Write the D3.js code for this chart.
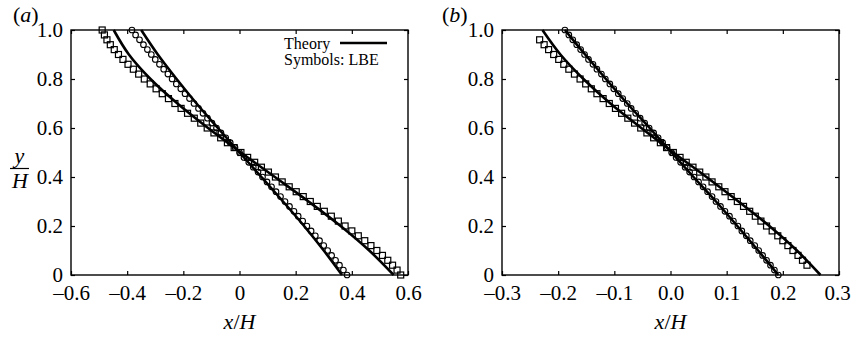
<!DOCTYPE html>
<html>
<head>
<meta charset="utf-8">
<script src="https://cdn.jsdelivr.net/npm/d3@7"></script>
<style>
  body { margin: 0; background: #fff; }
  svg text { font-family: "Liberation Serif", "DejaVu Serif", serif; }
</style>
</head>
<body>
<svg id="chart" width="851" height="337"></svg>
<script>
// y/H positions of the LBE symbols
const yPts = [1.00,0.98,0.96,0.94,0.92,0.90,0.88,0.86,0.84,0.82,0.80,0.78,0.76,0.74,0.72,0.70,0.68,0.66,0.64,0.62,0.60,0.58,0.56,0.54,0.52,0.50,0.48,0.46,0.44,0.42,0.40,0.38,0.36,0.34,0.32,0.30,0.28,0.26,0.24,0.22,0.20,0.18,0.16,0.14,0.12,0.10,0.08,0.06,0.04,0.02,0.00];
const yPtsB = [0.96,0.94,0.92,0.90,0.88,0.86,0.84,0.82,0.80,0.78,0.76,0.74,0.72,0.70,0.68,0.66,0.64,0.62,0.60,0.58,0.56,0.54,0.52,0.50,0.48,0.46,0.44,0.42,0.40,0.38,0.36,0.34,0.32,0.30,0.28,0.26,0.24,0.22,0.20,0.18,0.16,0.14,0.12,0.10,0.08,0.06,0.04];
// y/H positions of the theory curves
const yLine = [1.0,0.9,0.8,0.7,0.6,0.5,0.4,0.3,0.2,0.1,0.0];

// panel (a)
const circlesA = [-0.383,-0.370,-0.356,-0.342,-0.328,-0.314,-0.300,-0.285,-0.270,-0.255,-0.240,-0.225,-0.209,-0.194,-0.178,-0.162,-0.146,-0.130,-0.114,-0.098,-0.082,-0.066,-0.049,-0.033,-0.016,0.000,0.016,0.033,0.049,0.066,0.082,0.098,0.114,0.130,0.146,0.162,0.178,0.194,0.209,0.225,0.240,0.255,0.270,0.285,0.300,0.314,0.328,0.342,0.356,0.370,0.383];
const squaresA = [-0.489,-0.481,-0.472,-0.460,-0.446,-0.431,-0.415,-0.397,-0.378,-0.359,-0.339,-0.318,-0.297,-0.275,-0.253,-0.230,-0.208,-0.185,-0.161,-0.138,-0.115,-0.091,-0.067,-0.043,-0.019,0.005,0.029,0.054,0.078,0.103,0.128,0.152,0.177,0.202,0.227,0.252,0.277,0.302,0.327,0.352,0.376,0.400,0.423,0.446,0.468,0.489,0.509,0.528,0.545,0.561,0.574];
const theoryA1 = [-0.350,-0.291,-0.224,-0.153,-0.077,0.000,0.078,0.155,0.230,0.300,0.365];
const theoryA2 = [-0.448,-0.394,-0.317,-0.221,-0.112,0.005,0.126,0.246,0.360,0.462,0.549];

// panel (b)
const circlesB = [-0.188,-0.181,-0.174,-0.167,-0.160,-0.153,-0.146,-0.138,-0.131,-0.123,-0.116,-0.108,-0.101,-0.093,-0.085,-0.077,-0.070,-0.062,-0.054,-0.046,-0.038,-0.030,-0.022,-0.014,-0.006,0.002,0.010,0.018,0.026,0.034,0.042,0.050,0.058,0.066,0.074,0.081,0.089,0.097,0.105,0.112,0.120,0.127,0.135,0.142,0.150,0.157,0.164,0.171,0.178,0.185,0.192];
const squaresB = [-0.233,-0.225,-0.217,-0.208,-0.199,-0.190,-0.181,-0.171,-0.161,-0.151,-0.141,-0.131,-0.120,-0.109,-0.098,-0.087,-0.076,-0.064,-0.053,-0.042,-0.030,-0.018,-0.007,0.005,0.017,0.028,0.040,0.052,0.063,0.074,0.086,0.097,0.108,0.119,0.130,0.141,0.151,0.161,0.171,0.181,0.191,0.200,0.209,0.218,0.227,0.235,0.243];
const theoryB1 = [-0.188,-0.152,-0.115,-0.077,-0.037,0.002,0.041,0.081,0.119,0.156,0.192];
const theoryB2 = [-0.228,-0.196,-0.155,-0.107,-0.052,0.005,0.064,0.121,0.176,0.225,0.267];

// tick values and labels
const xTicksA = [-0.6,-0.4,-0.2,0,0.2,0.4,0.6];
const xLabelsA = ['\u20130.6','\u20130.4','\u20130.2','0','0.2','0.4','0.6'];
const xTicksB = [-0.3,-0.2,-0.1,0,0.1,0.2,0.3];
const xLabelsB = ['\u20130.3','\u20130.2','\u20130.1','0.0','0.1','0.2','0.3'];
const yTicks = [0,0.2,0.4,0.6,0.8,1.0];
const yLabels = ['0','0.2','0.4','0.6','0.8','1.0'];

const svg = d3.select('#chart');
const plotTop = 30, plotBottom = 275;
const fs = 21;      // tick labels
const fsLab = 22;   // axis labels and panel tags

function drawPanel(p) {
  const x = d3.scaleLinear().domain(p.domain).range([p.left, p.right]);
  const y = d3.scaleLinear().domain([0, 1]).range([plotBottom, plotTop]);
  const g = svg.append('g');

  const styleAxis = sel => {
    sel.select('.domain').remove();
    sel.attr('font-family', null).attr('font-size', null);
    sel.selectAll('line').attr('stroke', '#000').attr('stroke-width', 1.2);
    sel.selectAll('text').attr('fill', '#000').style('font-size', fs + 'px');
  };

  const xAxis = g.append('g')
    .attr('transform', `translate(0,${plotBottom})`)
    .call(d3.axisBottom(x).tickValues(p.ticks).tickFormat((d, i) => p.labels[i])
      .tickSize(-4).tickSizeOuter(0).tickPadding(10))
    .call(styleAxis);
  // keep the last label inside the picture
  if (p.pullLast) xAxis.selectAll('text').filter((d, i, n) => i === n.length - 1).attr('dx', -p.pullLast);

  g.append('g')
    .attr('transform', `translate(0,${plotTop})`)
    .call(d3.axisTop(x).tickValues(p.ticks).tickFormat('').tickSize(-4).tickSizeOuter(0))
    .call(styleAxis);

  g.append('g')
    .attr('transform', `translate(${p.left},0)`)
    .call(d3.axisLeft(y).tickValues(yTicks).tickFormat((d, i) => yLabels[i])
      .tickSize(-4).tickSizeOuter(0).tickPadding(8))
    .call(styleAxis);

  g.append('g')
    .attr('transform', `translate(${p.right},0)`)
    .call(d3.axisRight(y).tickValues(yTicks).tickFormat('').tickSize(-4).tickSizeOuter(0))
    .call(styleAxis);

  g.append('rect')
    .attr('x', p.left).attr('y', plotTop)
    .attr('width', p.right - p.left).attr('height', plotBottom - plotTop)
    .attr('fill', 'none').attr('stroke', '#000').attr('stroke-width', 1.4);

  // theory curves
  const line = d3.line()
    .x(d => x(d[0])).y(d => y(d[1]))
    .curve(d3.curveCatmullRom);
  p.lines.forEach(vals => {
    g.append('path')
      .datum(vals.map((v, i) => [v, yLine[i]]))
      .attr('d', line)
      .attr('fill', 'none').attr('stroke', '#000').attr('stroke-width', 2.6);
  });

  // LBE symbols
  g.selectAll('.circ')
    .data(p.circles.map((v, i) => [v, yPts[i]]))
    .enter().append('circle')
    .attr('class', 'circ')
    .attr('cx', d => x(d[0])).attr('cy', d => y(d[1]))
    .attr('r', 2.8)
    .attr('fill', 'none').attr('stroke', '#000').attr('stroke-width', 1.1);

  g.selectAll('.sq')
    .data(p.squares.map((v, i) => [v, p.squareY[i]]))
    .enter().append('rect')
    .attr('class', 'sq')
    .attr('x', d => x(d[0]) - 3).attr('y', d => y(d[1]) - 3)
    .attr('width', 6).attr('height', 6)
    .attr('fill', 'none').attr('stroke', '#000').attr('stroke-width', 1.2);

  // x label
  const xl = g.append('text')
    .attr('x', (p.left + p.right) / 2).attr('y', 329)
    .attr('text-anchor', 'middle').style('font-size', fsLab + 'px');
  xl.append('tspan').attr('font-style', 'italic').text('x');
  xl.append('tspan').text('/');
  xl.append('tspan').attr('font-style', 'italic').text('H');

  // panel tag
  const tag = svg.append('text')
    .attr('x', p.tagX).attr('y', 22).style('font-size', fsLab + 'px');
  tag.append('tspan').text('(');
  tag.append('tspan').attr('font-style', 'italic').text(p.tag);
  tag.append('tspan').text(')');

  return { x, y, g };
}

const pa = drawPanel({
  left: 71, right: 408, domain: [-0.6, 0.6],
  ticks: xTicksA, labels: xLabelsA,
  lines: [theoryA1, theoryA2],
  circles: circlesA, squares: squaresA, squareY: yPts,
  tag: 'a', tagX: 13
});

drawPanel({
  left: 502, right: 839, domain: [-0.3, 0.3],
  ticks: xTicksB, labels: xLabelsB,
  lines: [theoryB1, theoryB2],
  circles: circlesB, squares: squaresB, squareY: yPtsB,
  tag: 'b', tagX: 442, pullLast: 2
});

// legend in panel (a)
pa.g.append('text').attr('x', 284).attr('y', 49).style('font-size', '16px').text('Theory');
pa.g.append('line')
  .attr('x1', 340).attr('x2', 387).attr('y1', 43).attr('y2', 43)
  .attr('stroke', '#000').attr('stroke-width', 2.6);
pa.g.append('text').attr('x', 284).attr('y', 65).style('font-size', '16px').text('Symbols: LBE');

// y label as a fraction y / H
svg.append('text').attr('x', 19.5).attr('y', 163).attr('text-anchor', 'middle')
  .attr('font-style', 'italic').style('font-size', fsLab + 'px').text('y');
svg.append('line').attr('x1', 10).attr('x2', 29).attr('y1', 168.5).attr('y2', 168.5)
  .attr('stroke', '#000').attr('stroke-width', 1.2);
svg.append('text').attr('x', 20).attr('y', 188).attr('text-anchor', 'middle')
  .attr('font-style', 'italic').style('font-size', fsLab + 'px').text('H');
</script>
</body>
</html>
